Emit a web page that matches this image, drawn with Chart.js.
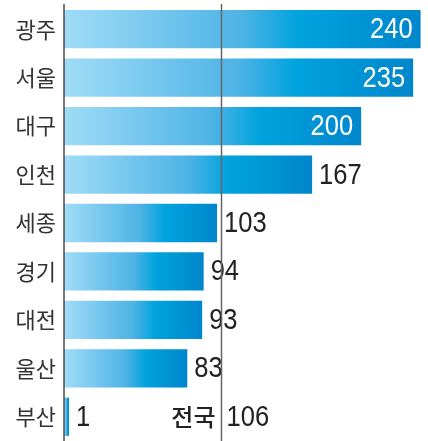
<!DOCTYPE html>
<html>
<head>
<meta charset="utf-8">
<script src="https://cdn.jsdelivr.net/npm/chart.js@4/dist/chart.umd.min.js"></script>
<style>
  html, body { margin: 0; padding: 0; background: #fff; }
  #wrap { width: 428px; height: 441px; position: relative; }
</style>
</head>
<body>
<div id="wrap"><canvas id="chart"></canvas></div>
<script>
// data
const regions = ['광주', '서울', '대구', '인천', '세종', '경기', '대전', '울산', '부산'];
const values = [240, 235, 200, 167, 103, 94, 93, 83, 1];
const nationalLabel = '전국';
const nationalValue = 106;

const numFont = '"Liberation Sans", Arial, sans-serif';
const krFont = '"Noto Sans CJK KR", "Noto Sans", sans-serif';

// per-bar horizontal gradient, light on the left, deep blue at the end
function barGradient(ctx) {
    const chart = ctx.chart;
    if (!chart.chartArea) return '#00a0dc';
    const xs = chart.scales.x;
    const x0 = xs.getPixelForValue(0);
    const x1 = Math.max(xs.getPixelForValue(ctx.raw), x0 + 5);
    const g = chart.ctx.createLinearGradient(x0, 0, x1, 0);
    g.addColorStop(0, '#a0dcf7');
    g.addColorStop(0.5, '#4db3e5');
    g.addColorStop(0.66, '#00a3de');
    g.addColorStop(1, '#0086cc');
    return g;
}

// condensed looking numbers: squeeze the regular font a bit
function narrowText(c, text, x, y, align) {
    const sx = 0.88;
    c.save();
    c.font = '29px ' + numFont;
    c.textAlign = align;
    c.textBaseline = 'middle';
    c.translate(x, y);
    c.scale(sx, 1);
    c.fillText(text, 0, 0);
    c.restore();
}

const overlay = {
    id: 'overlay',
    afterDatasetsDraw(chart) {
        const c = chart.ctx;
        const area = chart.chartArea;
        const xs = chart.scales.x;
        const meta = chart.getDatasetMeta(0);

        // value labels
        c.save();
        meta.data.forEach(function(bar, i) {
            const v = values[i];
            if (v >= 200) {
                c.fillStyle = '#ffffff';
                narrowText(c, String(v), bar.x - 8, bar.y + 1, 'right');
            } else {
                c.fillStyle = '#222222';
                narrowText(c, String(v), bar.x + 7, bar.y + 1, 'left');
            }
        });

        // axis line
        c.strokeStyle = '#4a4a4a';
        c.lineWidth = 1.5;
        c.beginPath();
        c.moveTo(area.left, 4);
        c.lineTo(area.left, chart.height);
        c.stroke();

        // national average line
        const rx = Math.round(xs.getPixelForValue(nationalValue)) + 0.5;
        c.strokeStyle = '#666666';
        c.beginPath();
        c.moveTo(rx, 4);
        c.lineTo(rx, chart.height);
        c.stroke();

        // national label at the bottom row
        const lastY = meta.data[meta.data.length - 1].y;
        c.fillStyle = '#222222';
        c.textAlign = 'right';
        c.textBaseline = 'middle';
        c.font = '500 24px ' + krFont;
        c.fillText(nationalLabel, rx - 6, lastY);
        narrowText(c, String(nationalValue), rx + 5, lastY + 1, 'left');
        c.restore();
    }
};

new Chart(document.getElementById('chart'), {
    type: 'bar',
    data: {
        labels: regions,
        datasets: [{
            data: values,
            backgroundColor: barGradient,
            borderWidth: 0,
            barPercentage: 0.79,
            categoryPercentage: 1,
            minBarLength: 5
        }]
    },
    options: {
        indexAxis: 'y',
        responsive: true,
        maintainAspectRatio: false,
        animation: false,
        layout: { padding: { top: 5, right: 0, bottom: 0, left: 0 } },
        plugins: {
            legend: { display: false },
            tooltip: { enabled: false }
        },
        scales: {
            x: {
                display: false,
                min: 0,
                max: 245
            },
            y: {
                grid: { display: false, drawTicks: false },
                border: { display: false },
                ticks: {
                    color: '#333333',
                    font: { family: krFont, size: 22 },
                    padding: 8
                },
                afterFit: function(scale) {
                    scale.width = 64;
                    scale.paddingTop = 0;
                    scale.paddingBottom = 0;
                }
            }
        }
    },
    plugins: [overlay]
});
</script>
</body>
</html>
